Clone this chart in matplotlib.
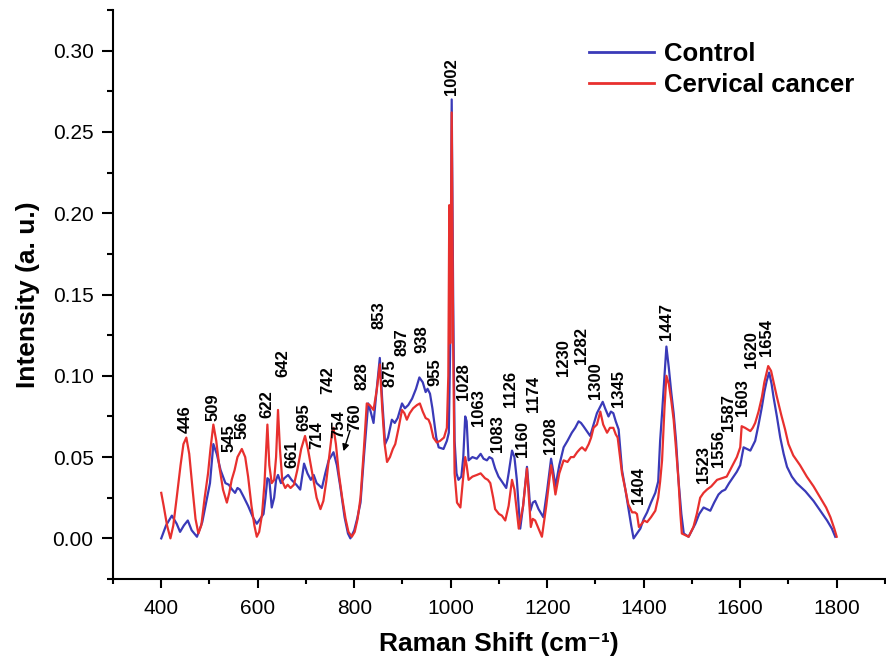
import matplotlib
matplotlib.use("Agg")
import matplotlib.pyplot as plt
from matplotlib.ticker import MultipleLocator, FormatStrFormatter

plt.rcParams['font.family'] = ['Liberation Sans', 'DejaVu Sans']

# control spectrum (blue)
control_shift = [
    400, 410, 422, 432, 439, 447, 455, 463, 474, 485, 495, 501, 508, 515, 523,
    533, 540, 547, 553, 558, 563, 570, 580, 590, 598, 605, 612, 616, 620, 624,
    629, 634, 638, 642, 648, 655, 663, 670, 680, 688, 696, 703, 710, 716, 722,
    733, 740, 747, 757, 764, 771, 780, 787, 792, 800, 806, 813, 820, 829, 834,
    840, 846, 853, 858, 864, 870, 878, 884, 890, 899, 905, 912, 920, 928, 935,
    942, 948, 952, 957, 962, 970, 975, 985, 992, 996, 999, 1002, 1005, 1008,
    1012, 1016, 1022, 1026, 1030, 1033, 1037, 1045, 1054, 1062, 1068, 1075,
    1080, 1086, 1092, 1099, 1106, 1115, 1120, 1127, 1132, 1137, 1144, 1150,
    1158, 1162, 1165, 1170, 1175, 1182, 1192, 1200, 1208, 1212, 1217, 1225,
    1234, 1242, 1251, 1258, 1265, 1270, 1275, 1282, 1289, 1296, 1303, 1310,
    1315, 1320, 1327, 1332, 1337, 1342, 1348, 1355, 1362, 1368, 1374, 1379,
    1386, 1393, 1400, 1407, 1415, 1424, 1430, 1434, 1438, 1443, 1447, 1452,
    1457, 1462, 1467, 1472, 1478, 1483, 1493, 1500, 1507, 1515, 1524, 1531,
    1538, 1546, 1555, 1562, 1569, 1577, 1586, 1593, 1600, 1607, 1614, 1621,
    1626, 1631, 1638, 1645, 1650, 1655, 1660, 1665, 1669, 1676, 1683, 1690,
    1697, 1707, 1717, 1735, 1752, 1766, 1780, 1790, 1797,
]
control_int = [
    0.000, 0.008, 0.014, 0.009, 0.004, 0.008, 0.011, 0.005, 0.001, 0.010,
    0.025, 0.034, 0.058, 0.052, 0.042, 0.034, 0.033, 0.030, 0.028, 0.031,
    0.030, 0.026, 0.020, 0.013, 0.009, 0.012, 0.015, 0.025, 0.037, 0.036,
    0.019, 0.025, 0.036, 0.039, 0.034, 0.037, 0.039, 0.036, 0.033, 0.030,
    0.046, 0.040, 0.036, 0.039, 0.034, 0.031, 0.040, 0.048, 0.053, 0.045,
    0.032, 0.013, 0.003, 0.000, 0.005, 0.012, 0.022, 0.050, 0.083, 0.078,
    0.071, 0.090, 0.111, 0.085, 0.058, 0.062, 0.073, 0.071, 0.074, 0.083,
    0.080, 0.082, 0.086, 0.092, 0.099, 0.096, 0.090, 0.092, 0.089, 0.080,
    0.062, 0.056, 0.055, 0.060, 0.065, 0.120, 0.270, 0.150, 0.060, 0.040,
    0.036, 0.038, 0.050, 0.075, 0.072, 0.048, 0.050, 0.049, 0.052, 0.049,
    0.048, 0.050, 0.049, 0.043, 0.038, 0.035, 0.031, 0.040, 0.054, 0.050,
    0.036, 0.006, 0.020, 0.044, 0.030, 0.017, 0.022, 0.023, 0.018, 0.013,
    0.030, 0.049, 0.042, 0.032, 0.045, 0.056, 0.060, 0.065, 0.068, 0.072,
    0.071, 0.069, 0.066, 0.063, 0.070, 0.077, 0.081, 0.084, 0.080, 0.075,
    0.078, 0.077, 0.072, 0.067, 0.042, 0.030, 0.019, 0.008, 0.000, 0.003,
    0.006, 0.012, 0.016, 0.022, 0.028, 0.035, 0.060, 0.077, 0.100, 0.118,
    0.105, 0.090, 0.077, 0.060, 0.036, 0.015, 0.003, 0.001, 0.005, 0.009,
    0.015, 0.019, 0.018, 0.017, 0.022, 0.027, 0.029, 0.030, 0.034, 0.038,
    0.041, 0.045, 0.056, 0.055, 0.054, 0.057, 0.060, 0.070, 0.081, 0.090,
    0.097, 0.102, 0.095, 0.087, 0.075, 0.062, 0.052, 0.044, 0.038, 0.034,
    0.029, 0.023, 0.017, 0.011, 0.006, 0.001,
]

# cervical cancer spectrum (red)
cancer_shift = [
    400, 405, 412, 419, 425, 432, 440, 446, 452, 458, 465, 471, 477, 483, 490,
    497, 502, 508, 514, 520, 528, 536, 541, 546, 552, 558, 567, 574, 580, 587,
    593, 598, 603, 609, 614, 620, 624, 629, 634, 638, 642, 646, 651, 657, 662,
    668, 675, 682, 690, 698, 704, 710, 716, 722, 730, 736, 742, 748, 754, 757,
    762, 768, 775, 782, 788, 795, 801, 807, 813, 820, 826, 832, 840, 847, 853,
    858, 863, 868, 874, 880, 885, 892, 899, 904, 909, 915, 922, 930, 936, 942,
    948, 954, 958, 964, 971, 978, 986, 992, 995, 997, 999, 1002, 1005, 1008,
    1013, 1020, 1025, 1030, 1033, 1037, 1045, 1054, 1062, 1071, 1077, 1082,
    1088, 1092, 1100, 1106, 1113, 1120, 1127, 1132, 1141, 1150, 1158, 1162,
    1166, 1170, 1175, 1182, 1189, 1198, 1208, 1212, 1217, 1225, 1234, 1242,
    1249, 1255, 1262, 1268, 1272, 1279, 1286, 1291, 1296, 1303, 1310, 1316,
    1324, 1330, 1337, 1342, 1346, 1355, 1362, 1368, 1376, 1382, 1386, 1390,
    1396, 1401, 1407, 1415, 1424, 1430, 1434, 1438, 1443, 1447, 1452, 1457,
    1462, 1467, 1472, 1476, 1479, 1493, 1503, 1510, 1517, 1524, 1531, 1540,
    1552, 1562, 1572, 1579, 1586, 1593, 1600, 1603, 1610, 1621, 1626, 1631,
    1638, 1645, 1650, 1658, 1664, 1670, 1676, 1685, 1693, 1700, 1710, 1724,
    1738, 1752, 1766, 1778, 1787, 1795, 1800,
]
cancer_int = [
    0.028, 0.020, 0.008, 0.000, 0.008, 0.025, 0.045, 0.058, 0.062, 0.052,
    0.030, 0.012, 0.003, 0.008, 0.025, 0.040, 0.055, 0.070, 0.060, 0.045,
    0.030, 0.022, 0.028, 0.036, 0.042, 0.050, 0.055, 0.050, 0.038, 0.020,
    0.008, 0.001, 0.004, 0.015, 0.034, 0.070, 0.045, 0.034, 0.036, 0.050,
    0.079, 0.055, 0.035, 0.031, 0.033, 0.031, 0.033, 0.042, 0.055, 0.063,
    0.055, 0.045, 0.035, 0.025, 0.018, 0.023, 0.035, 0.050, 0.065, 0.068,
    0.058, 0.040, 0.025, 0.012, 0.004, 0.001, 0.004, 0.012, 0.025, 0.055,
    0.083, 0.082, 0.079, 0.092, 0.107, 0.080, 0.058, 0.047, 0.050, 0.055,
    0.058, 0.068, 0.079, 0.077, 0.073, 0.077, 0.080, 0.082, 0.083, 0.078,
    0.074, 0.073, 0.070, 0.062, 0.059, 0.060, 0.062, 0.068, 0.100, 0.205,
    0.120, 0.262, 0.120, 0.040, 0.022, 0.019, 0.035, 0.050, 0.045, 0.036,
    0.038, 0.039, 0.040, 0.037, 0.036, 0.034, 0.025, 0.018, 0.015, 0.014,
    0.011, 0.020, 0.036, 0.030, 0.006, 0.020, 0.043, 0.025, 0.007, 0.012,
    0.011, 0.006, 0.001, 0.020, 0.045, 0.038, 0.027, 0.040, 0.048, 0.047,
    0.050, 0.050, 0.053, 0.055, 0.056, 0.054, 0.058, 0.062, 0.068, 0.070,
    0.078, 0.070, 0.065, 0.068, 0.068, 0.064, 0.062, 0.040, 0.030, 0.021,
    0.016, 0.016, 0.015, 0.007, 0.009, 0.011, 0.010, 0.013, 0.017, 0.025,
    0.035, 0.048, 0.080, 0.100, 0.095, 0.085, 0.073, 0.055, 0.036, 0.015,
    0.003, 0.001, 0.007, 0.015, 0.025, 0.028, 0.030, 0.032, 0.036, 0.037,
    0.038, 0.042, 0.046, 0.050, 0.056, 0.069, 0.068, 0.066, 0.068, 0.071,
    0.078, 0.087, 0.096, 0.106, 0.103, 0.095, 0.087, 0.076, 0.067, 0.058,
    0.051, 0.045, 0.038, 0.032, 0.025, 0.019, 0.013, 0.006, 0.001,
]

# peak annotations: text, anchor x (cm-1) and bottom of the text (a.u.)
peak_labels = ['446', '509', '545', '566', '622', '642', '661', '695', '714',
               '742', '754', '760', '828', '853', '875', '897', '938', '955',
               '1002', '1028', '1063', '1083', '1126', '1160', '1174', '1208',
               '1230', '1282', '1300', '1345', '1404', '1447', '1523', '1556',
               '1587', '1603', '1620', '1654']
label_x = [450, 508, 540, 567, 619, 653, 671, 696, 723, 746, 767, 802, 817,
           852, 875, 899, 940, 968, 1002, 1027, 1058, 1096, 1123, 1148, 1172,
           1206, 1234, 1272, 1300, 1348, 1389, 1448, 1524, 1555, 1576, 1604,
           1624, 1655]
label_y = [0.065, 0.072, 0.053, 0.061, 0.074, 0.099, 0.043, 0.066, 0.055,
           0.089, 0.062, 0.066, 0.091, 0.129, 0.093, 0.112, 0.114, 0.094,
           0.273, 0.085, 0.069, 0.053, 0.081, 0.050, 0.078, 0.052, 0.100,
           0.107, 0.086, 0.081, 0.021, 0.122, 0.034, 0.044, 0.066, 0.075,
           0.105, 0.112]

fig = plt.figure(figsize=(8.87, 6.6), dpi=100)
ax = fig.add_axes([0.1274, 0.1227, 0.8703, 0.8621])

ax.plot(control_shift, control_int, color='#3a3ab8', lw=1.6, label='Control')
ax.plot(cancer_shift, cancer_int, color='#e8302e', lw=1.6,
        label='Cervical cancer')

for txt, lx, ly in zip(peak_labels, label_x, label_y):
    ax.text(lx, ly, txt, rotation=90, ha='center', va='bottom',
            fontsize=12, fontweight='bold')

# little arrow pointing at the 760 band
ax.annotate('', xy=(776, 0.052), xytext=(793, 0.068),
            arrowprops=dict(arrowstyle='-|>', color='black', lw=1,
                            mutation_scale=10))

ax.set_xlim(300, 1900)
ax.set_ylim(-0.025, 0.325)
ax.xaxis.set_major_locator(MultipleLocator(200))
ax.xaxis.set_minor_locator(MultipleLocator(100))
ax.yaxis.set_major_locator(MultipleLocator(0.05))
ax.yaxis.set_minor_locator(MultipleLocator(0.025))
ax.yaxis.set_major_formatter(FormatStrFormatter('%.2f'))

for side in ['top', 'right']:
    ax.spines[side].set_visible(False)
for side in ['left', 'bottom']:
    ax.spines[side].set_linewidth(1.5)

ax.tick_params(axis='x', which='major', direction='out', length=6.5,
               width=1.5, labelsize=15, pad=8)
ax.tick_params(axis='x', which='minor', direction='out', length=3.5, width=1.5)
ax.tick_params(axis='y', which='major', direction='out', length=8,
               width=1.5, labelsize=15, pad=6)
ax.tick_params(axis='y', which='minor', direction='out', length=4.3, width=1.5)

ax.set_xlabel('Raman Shift (cm\u207b\u00b9)', fontsize=19,
              fontweight='bold', labelpad=10)
ax.set_ylabel('Intensity (a. u.)', fontsize=19, fontweight='bold',
              labelpad=9)

leg = ax.legend(loc='upper right', bbox_to_anchor=(0.99, 0.985),
                frameon=False, handlelength=2.5, handletextpad=0.4,
                labelspacing=0.3, prop={'size': 18.5, 'weight': 'bold'})
for line in leg.get_lines():
    line.set_linewidth(2)

fig.savefig('out.png', dpi=100)
